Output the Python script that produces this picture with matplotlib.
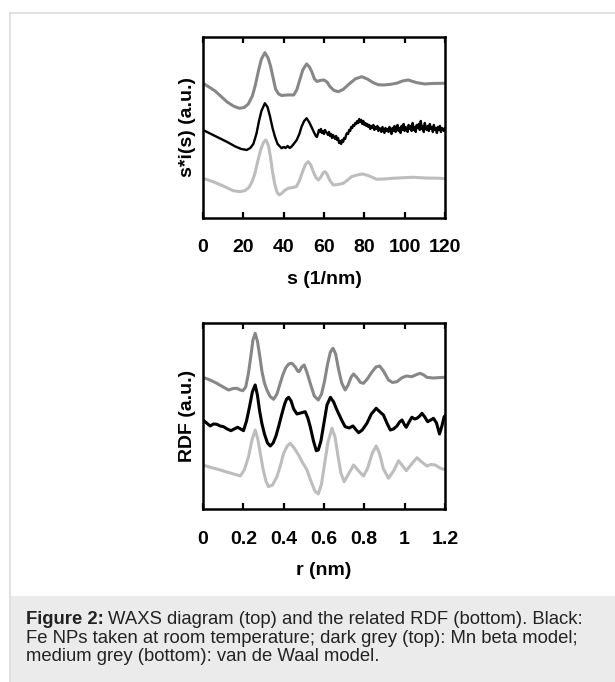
import numpy as np
import matplotlib
matplotlib.use("Agg")
import matplotlib.pyplot as plt
from matplotlib.patches import Rectangle
from matplotlib.lines import Line2D

plt.rcParams['font.family'] = ['Liberation Sans', 'DejaVu Sans']

DARK = '#878787'
LIGHT = '#bdbdbd'

# WAXS, s in 1/nm, intensities in a.u. (curves offset vertically)
s_mn = [0, 3, 6, 9, 12, 15, 18, 20.5, 22.5, 24.5, 26, 27.5, 29, 30.7, 32.3, 33.5, 34.8, 36,
        37.5, 39, 42, 45, 46.5, 48, 49.5, 51.4, 52.8, 54, 55.3, 56.6, 58.2, 60, 61.5, 63, 65,
        67.1, 69.5, 72.5, 75.5, 78.7, 81.5, 84.4, 87, 89.4, 92.5, 96, 99, 101.8, 104, 106, 110,
        114, 120]
i_mn = [134.7, 131, 127, 121.5, 116, 112, 109.7, 110.5, 114, 122, 133, 147, 159, 165.3, 160, 152,
        140, 129, 124, 122.5, 123, 123, 128, 138, 148, 154, 151, 146, 139, 136.5, 137.5, 138, 136,
        131.3, 127.5, 126.3, 128.5, 134, 139, 141.3, 139, 135.3, 133.2, 133, 133.5, 134.7, 137, 138,
        136.5, 135.3, 134, 134.5, 134.7]

s_fe = [0, 4, 8, 12, 16, 19, 21.7, 23.5, 25, 26.5, 27.8, 29, 30.7, 32, 33.2, 34.5, 35.7, 37, 39,
        40, 41, 42, 43, 44, 45, 46.5, 47.8, 48.9, 50.2, 51.4, 52.6, 53.9, 55.2, 56.0]
i_fe = [88, 84, 80, 76, 71.5, 69, 68, 70, 74, 84, 97, 107, 114.7, 111, 102, 90, 81.3, 74, 69.7,
        71, 70, 72, 70, 71.5, 74, 78, 84, 91.3, 97, 99.7, 96, 90.7, 85, 82]
# noisy part of the measured pattern, s = 56.5 ... 120 in steps of 0.5
s_fe_noisy = np.arange(56.5, 120.01, 0.5)
i_fe_noisy = [81, 84, 88, 86, 89, 85, 87, 84, 88, 86,
              85, 83, 86, 82, 84, 80, 83, 81, 79, 82,
              78, 80, 75, 77, 74, 78, 76, 80, 79, 83,
              85, 84, 88, 87, 91, 90, 93, 92, 95, 94,
              97, 95, 99, 96, 98, 94, 97, 93, 95, 92,
              94, 91, 93, 89, 92, 90, 93, 88, 91, 89,
              92, 87, 90, 89, 86, 91, 88, 85, 90, 87,
              89, 86, 91, 88, 84, 90, 87, 92, 86, 89,
              93, 87, 90, 85, 92, 88, 94, 87, 91, 89,
              86, 93, 89, 92, 87, 95, 88, 91, 86, 93,
              90, 94, 88, 97, 89, 92, 86, 95, 90, 88,
              92, 87, 94, 89, 91, 86, 93, 88, 90, 85,
              91, 88, 92, 86, 90, 89, 87, 90]

s_vdw = [0, 5, 10, 15, 18.3, 21, 23, 24.5, 25.8, 27.2, 28.6, 30, 31.2, 32.4, 33.4, 34.5, 35.7,
         36.8, 37.8, 39, 40.5, 42.3, 44.5, 46.3, 47.8, 49.4, 50.8, 52.2, 53.5, 54.7, 56, 57.2, 58.5,
         59.5, 60.5, 61.5, 62.8, 64.6, 67, 69.6, 71.8, 73.7, 76.5, 79.2, 82.5, 86.1, 90, 94.3, 100,
         104.3, 110, 117.5, 120]
i_vdw = [39.7, 36.3, 32, 27.3, 26.3, 27.5, 31, 37, 44.7, 57, 68, 75.5, 78, 73, 62, 46, 33,
         25.5, 23, 24.5, 27.5, 29.7, 30.5, 31.3, 37, 46.3, 53.5, 56.3, 53, 46.3, 40.5, 38, 41,
         45, 46.3, 44, 38, 33, 33.5, 34.7, 38, 41.3, 43, 44, 42, 38.7, 39, 39.7, 40.3,
         40.7, 40, 39.7, 39.3]

# RDF, r in nm
r_mn = [0, 0.035, 0.069, 0.10, 0.127, 0.15, 0.168, 0.185, 0.198, 0.212, 0.225, 0.237, 0.248,
        0.259, 0.27, 0.281, 0.293, 0.305, 0.317, 0.333, 0.35, 0.367, 0.383, 0.396, 0.41, 0.425,
        0.441, 0.458, 0.47, 0.477, 0.49, 0.502, 0.515, 0.532, 0.552, 0.572, 0.588, 0.603, 0.618,
        0.632, 0.645, 0.658, 0.672, 0.688, 0.705, 0.72, 0.735, 0.747, 0.765, 0.781, 0.796, 0.815,
        0.838, 0.858, 0.876, 0.895, 0.92, 0.94, 0.962, 0.985, 1.008, 1.036, 1.06, 1.077, 1.095,
        1.11, 1.14, 1.2]
g_mn = [131.7, 129, 125.7, 122, 119, 120.5, 120.7, 119, 118.3, 122, 135, 152, 169,
        175.7, 168, 154, 137, 126, 119, 112.5, 109.7, 115, 125.7, 134, 141, 145,
        145.7, 142, 137.8, 137.3, 142, 144, 137, 125.7, 113, 109, 115, 128, 145,
        157, 160.7, 155, 140, 126, 119, 124, 132, 135, 131, 126.5, 125.7, 130,
        137, 142, 143, 138, 129, 126.5, 127.3, 131, 133, 132.3, 134.5, 135.7, 134,
        131.7, 131, 131.7]

r_fe = [0, 0.018, 0.036, 0.052, 0.069, 0.085, 0.102, 0.12, 0.139, 0.155, 0.172, 0.187, 0.201,
        0.216, 0.231, 0.245, 0.259, 0.27, 0.281, 0.292, 0.305, 0.32, 0.334, 0.348, 0.362, 0.375,
        0.39, 0.405, 0.415, 0.425, 0.437, 0.45, 0.466, 0.485, 0.507, 0.52, 0.532, 0.548, 0.562,
        0.572, 0.585, 0.60, 0.615, 0.632, 0.648, 0.66, 0.672, 0.69, 0.705, 0.725, 0.744, 0.76,
        0.772, 0.79, 0.813, 0.835, 0.859, 0.878, 0.895, 0.912, 0.929, 0.945, 0.962, 0.975, 0.987,
        1.0, 1.008, 1.022, 1.036, 1.05, 1.061, 1.075, 1.086, 1.1, 1.114, 1.13, 1.143, 1.158, 1.173,
        1.185, 1.196, 1.2]
g_fe = [89, 86, 83, 85, 84.7, 83, 82.3, 80, 78.3, 80, 81.7, 80, 78.3,
        88, 102.3, 117, 124, 114, 98, 85.7, 75, 66, 63, 66, 73, 82.3,
        94, 105, 110, 111.7, 108, 100, 95, 96, 97.3, 91, 82.3, 68, 58.3,
        59, 68, 86, 104, 111.7, 107, 101, 95.7, 88, 82.3, 81, 83, 79,
        76.3, 79, 85.7, 95, 100.7, 97, 94, 86, 79, 80, 83, 87, 89,
        84, 81.7, 87, 91.7, 90, 90.7, 93, 95.7, 92, 87.3, 89, 90.7, 86, 75,
        83, 92.3, 93]

r_vdw = [0, 0.04, 0.086, 0.135, 0.185, 0.205, 0.226, 0.243, 0.259, 0.272, 0.285, 0.298, 0.312,
         0.325, 0.345, 0.367, 0.385, 0.4, 0.418, 0.433, 0.452, 0.474, 0.495, 0.516, 0.535, 0.555,
         0.572, 0.588, 0.603, 0.62, 0.64, 0.655, 0.668, 0.684, 0.70, 0.722, 0.747, 0.772, 0.796,
         0.815, 0.84, 0.859, 0.875, 0.895, 0.92, 0.945, 0.97, 0.99, 1.008, 1.035, 1.061, 1.085,
         1.11, 1.13, 1.152, 1.175, 1.193, 1.2]
g_vdw = [44, 41.5, 39, 36, 33, 39, 52.3, 69, 79, 70, 55, 40, 28,
         22.3, 24, 32.3, 44, 55.7, 63, 65.7, 61, 54, 46, 39, 28, 18,
         15, 25, 45, 67, 80.7, 72, 55, 36, 27.3, 35, 44, 38, 33,
         40, 56, 63, 56, 40, 30.7, 38, 48.3, 43, 38.3, 45, 51.3, 47,
         43, 44.5, 44, 41, 39.7, 39.5]

s_ticks = [0, 20, 40, 60, 80, 100, 120]
r_ticks = [0, 0.2, 0.4, 0.6, 0.8, 1, 1.2]
r_labels = ['0', '0.2', '0.4', '0.6', '0.8', '1', '1.2']

FS = 14

fig = plt.figure(figsize=(6.15, 6.82), dpi=100)

# frame of the figure box and the caption panel
fig.add_artist(Rectangle((0.0163, 0.0), 1.0, 0.126, transform=fig.transFigure,
                         facecolor='#ebebeb', edgecolor='none', zorder=0))
fig.add_artist(Line2D([0.0163, 0.0163], [0.0, 0.981], transform=fig.transFigure,
                      color='#dcdcdc', lw=1.2))
fig.add_artist(Line2D([0.0163, 1.0], [0.981, 0.981], transform=fig.transFigure,
                      color='#dcdcdc', lw=1.2))


def style(ax, xlim, ylim, ticks, labels):
    ax.set_xlim(*xlim)
    ax.set_ylim(*ylim)
    for sp in ax.spines.values():
        sp.set_linewidth(1.8)
    ax.set_yticks([])
    ax.set_xticks(ticks)
    ax.set_xticklabels(labels, fontsize=FS, fontweight='bold')
    ax.tick_params(axis='x', direction='in', length=4, width=1.6, top=True, pad=15.5)


ax1 = fig.add_axes([0.330, 0.6804, 0.3935, 0.2654])
ax1.plot(s_mn, i_mn, color=DARK, lw=2.2)
ax1.plot(list(s_fe) + list(s_fe_noisy), list(i_fe) + list(i_fe_noisy), color='black', lw=1.7)
ax1.plot(s_vdw, i_vdw, color=LIGHT, lw=2.2)
style(ax1, (0, 120), (0, 181), s_ticks, [str(t) for t in s_ticks])
ax1.set_xlabel('s (1/nm)', fontsize=FS, fontweight='bold', labelpad=10.5)
ax1.set_ylabel('s*i(s) (a.u.)', fontsize=FS, fontweight='bold', labelpad=5)

ax2 = fig.add_axes([0.330, 0.2537, 0.3935, 0.2727])
ax2.plot(r_mn, g_mn, color=DARK, lw=2.2)
ax2.plot(r_fe, g_fe, color='black', lw=2.2)
ax2.plot(r_vdw, g_vdw, color=LIGHT, lw=2.2)
style(ax2, (0, 1.2), (0, 186), r_ticks, r_labels)
ax2.set_xlabel('r (nm)', fontsize=FS, fontweight='bold', labelpad=10.5)
ax2.set_ylabel('RDF (a.u.)', fontsize=FS, fontweight='bold', labelpad=5)

# caption
cap_x = 26 / 615
cap_size = 13.3
renderer = fig.canvas.get_renderer()
head = fig.text(cap_x, 1 - 624 / 682, 'Figure 2:', fontsize=cap_size, fontweight='bold',
                color='#222222', va='baseline')
bb = head.get_window_extent(renderer=renderer)
fig.text(bb.x1 / fig.bbox.width + 0.007, 1 - 624 / 682,
         'WAXS diagram (top) and the related RDF (bottom). Black:',
         fontsize=cap_size, color='#222222', va='baseline')
fig.text(cap_x, 1 - 643 / 682,
         'Fe NPs taken at room temperature; dark grey (top): Mn beta model;',
         fontsize=cap_size, color='#222222', va='baseline')
fig.text(cap_x, 1 - 661 / 682, 'medium grey (bottom): van de Waal model.',
         fontsize=cap_size, color='#222222', va='baseline')

fig.savefig('out.png', dpi=100)
